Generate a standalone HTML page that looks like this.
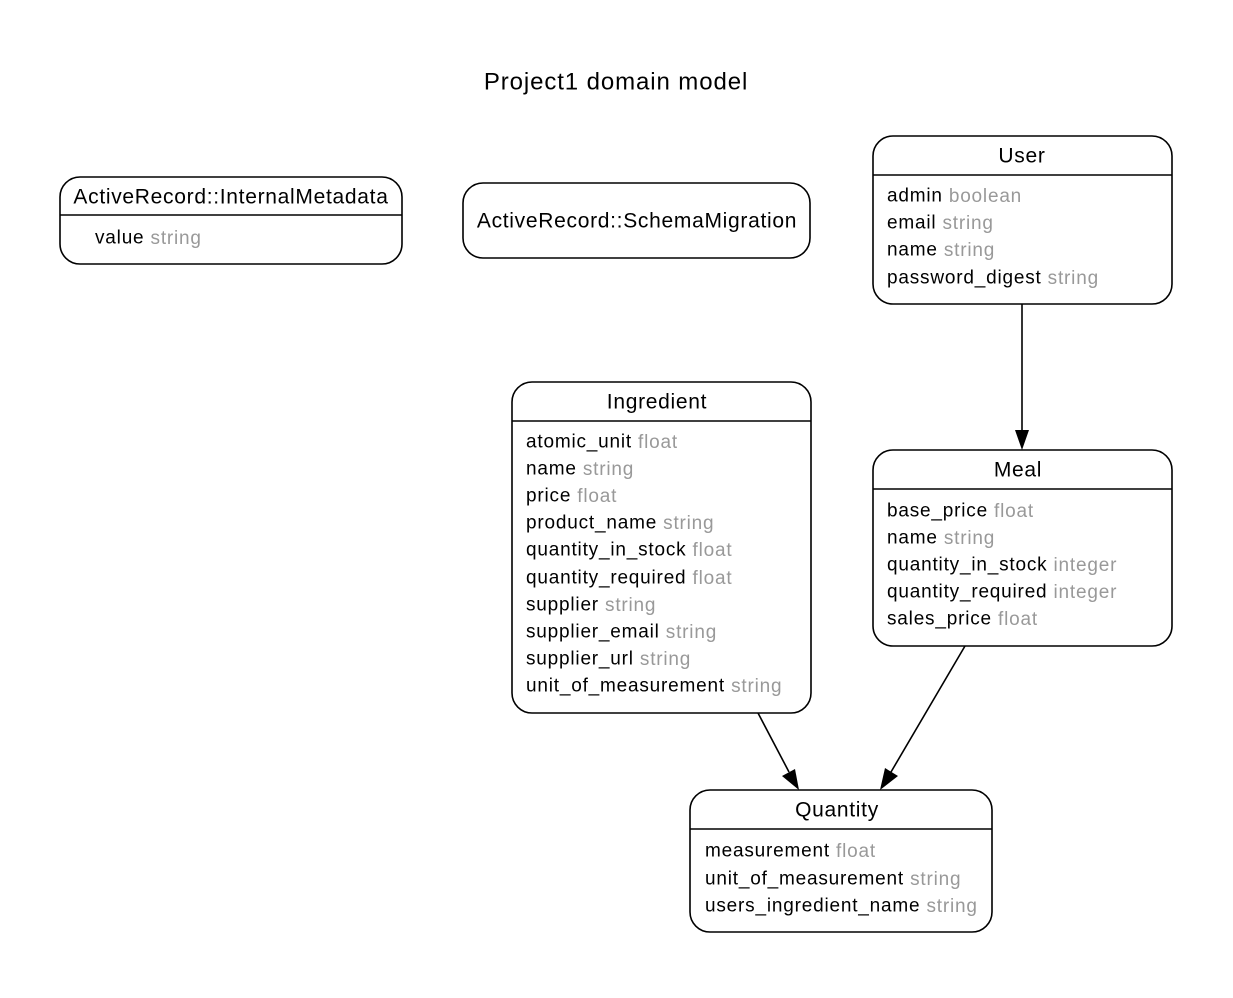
<!DOCTYPE html>
<html><head><meta charset="utf-8"><style>
html,body{margin:0;padding:0;background:#fff;}
svg text{font-family:"Liberation Sans",Arial,sans-serif;}
.t{font-size:21px;letter-spacing:0.7px;fill:#000;text-anchor:middle;dominant-baseline:central;}
.r{font-size:19px;letter-spacing:0.8px;fill:#000;dominant-baseline:central;}
.g{fill:#999;}
.b{fill:#fff;stroke:#000;stroke-width:1.6;}
.l{stroke:#000;stroke-width:1.6;}
</style></head><body>
<svg width="1233" height="993" viewBox="0 0 1233 993" xmlns="http://www.w3.org/2000/svg">
<text class="t" x="616" y="82" style="font-size:24px;letter-spacing:0.9px">Project1 domain model</text>

<rect class="b" x="60" y="177" width="342" height="87" rx="20"/>
<line class="l" x1="60" y1="215" x2="402" y2="215"/>
<text class="t" x="231" y="197">ActiveRecord::InternalMetadata</text>
<text class="r" x="95" y="238">value <tspan class="g">string</tspan></text>

<rect class="b" x="463" y="183" width="347" height="75" rx="20"/>
<text class="t" x="637" y="221">ActiveRecord::SchemaMigration</text>

<rect class="b" x="873" y="136" width="299" height="168" rx="20"/>
<line class="l" x1="873" y1="175" x2="1172" y2="175"/>
<text class="t" x="1022" y="156">User</text>
<text class="r" x="887" y="196">admin <tspan class="g">boolean</tspan></text>
<text class="r" x="887" y="223">email <tspan class="g">string</tspan></text>
<text class="r" x="887" y="250">name <tspan class="g">string</tspan></text>
<text class="r" x="887" y="278">password_digest <tspan class="g">string</tspan></text>

<rect class="b" x="512" y="382" width="299" height="331" rx="20"/>
<line class="l" x1="512" y1="421" x2="811" y2="421"/>
<text class="t" x="657" y="402">Ingredient</text>
<text class="r" x="526" y="442">atomic_unit <tspan class="g">float</tspan></text>
<text class="r" x="526" y="469">name <tspan class="g">string</tspan></text>
<text class="r" x="526" y="496">price <tspan class="g">float</tspan></text>
<text class="r" x="526" y="523">product_name <tspan class="g">string</tspan></text>
<text class="r" x="526" y="550">quantity_in_stock <tspan class="g">float</tspan></text>
<text class="r" x="526" y="578">quantity_required <tspan class="g">float</tspan></text>
<text class="r" x="526" y="605">supplier <tspan class="g">string</tspan></text>
<text class="r" x="526" y="632">supplier_email <tspan class="g">string</tspan></text>
<text class="r" x="526" y="659">supplier_url <tspan class="g">string</tspan></text>
<text class="r" x="526" y="686">unit_of_measurement <tspan class="g">string</tspan></text>

<rect class="b" x="873" y="450" width="299" height="196" rx="20"/>
<line class="l" x1="873" y1="489" x2="1172" y2="489"/>
<text class="t" x="1018" y="470">Meal</text>
<text class="r" x="887" y="511">base_price <tspan class="g">float</tspan></text>
<text class="r" x="887" y="538">name <tspan class="g">string</tspan></text>
<text class="r" x="887" y="565">quantity_in_stock <tspan class="g">integer</tspan></text>
<text class="r" x="887" y="592">quantity_required <tspan class="g">integer</tspan></text>
<text class="r" x="887" y="619">sales_price <tspan class="g">float</tspan></text>

<rect class="b" x="690" y="790" width="302" height="142" rx="20"/>
<line class="l" x1="690" y1="829" x2="992" y2="829"/>
<text class="t" x="837" y="810">Quantity</text>
<text class="r" x="705" y="851">measurement <tspan class="g">float</tspan></text>
<text class="r" x="705" y="879">unit_of_measurement <tspan class="g">string</tspan></text>
<text class="r" x="705" y="906">users_ingredient_name <tspan class="g">string</tspan></text>

<line class="l" x1="1022" y1="304" x2="1022" y2="430"/>
<polygon points="1015,430 1029,430 1022,450" fill="#000"/>
<line class="l" x1="758" y1="713" x2="789" y2="772"/>
<polygon points="782,776 795,769 799,790" fill="#000"/>
<line class="l" x1="965" y1="646" x2="891" y2="772"/>
<polygon points="885,768 898,776 880,790" fill="#000"/>
</svg>
</body></html>
